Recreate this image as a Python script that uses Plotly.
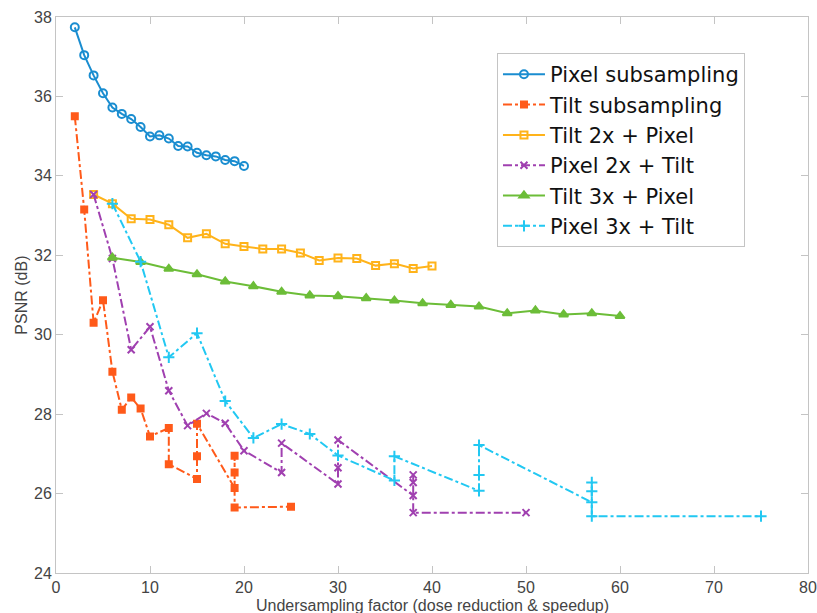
import plotly.graph_objects as go

# ---------------- data ----------------
pixel_x = list(range(2, 21))
pixel_y = [37.74, 37.04, 36.53, 36.08, 35.72, 35.56, 35.43, 35.23, 34.99, 35.02,
           34.94, 34.75, 34.74, 34.58, 34.52, 34.49, 34.40, 34.37, 34.25]

tilt_x = [2, 3, 4, 5, 6, 7, 8, 9, 10, 12, 12, 15, 15, 15, 19, 19, 19, 19, 25]
tilt_y = [35.50, 33.15, 30.30, 30.87, 29.07, 28.11, 28.42, 28.14, 27.44, 27.65,
          26.74, 26.37, 26.94, 27.76, 26.14, 26.53, 26.95, 25.65, 25.67]

t2p_x = list(range(4, 41, 2))
t2p_y = [33.53, 33.30, 32.92, 32.90, 32.77, 32.44, 32.54, 32.29, 32.22, 32.16,
         32.16, 32.06, 31.87, 31.93, 31.92, 31.74, 31.79, 31.67, 31.73]

p2t_x = [4, 6, 8, 10, 12, 14, 16, 18, 20, 24, 24, 30, 30, 30, 38, 38, 38, 38, 50]
p2t_y = [33.53, 31.92, 29.62, 30.20, 28.59, 27.71, 28.02, 27.77, 27.08, 26.53,
         27.27, 26.24, 26.65, 27.35, 25.95, 26.28, 26.47, 25.52, 25.52]

t3p_x = list(range(6, 61, 3))
t3p_y = [31.94, 31.83, 31.66, 31.52, 31.34, 31.22, 31.08, 30.99, 30.97, 30.92,
         30.86, 30.79, 30.75, 30.71, 30.54, 30.61, 30.51, 30.54, 30.47]

p3t_x = [6, 9, 12, 15, 18, 21, 24, 27, 30, 36, 36, 45, 45, 45, 57, 57, 57, 57, 75]
p3t_y = [33.30, 31.84, 29.43, 30.04, 28.33, 27.40, 27.75, 27.50, 26.96, 26.33,
         26.94, 26.07, 26.47, 27.22, 25.78, 26.06, 26.28, 25.43, 25.43]

x_ticks = [0, 10, 20, 30, 40, 50, 60, 70, 80]
y_ticks = [24, 26, 28, 30, 32, 34, 36, 38]

x_title = "Undersampling factor (dose reduction & speedup)"
y_title = "PSNR (dB)"

series = [
    ("Pixel subsampling", pixel_x, pixel_y, "#1a8dd0", "solid", "circle-open", 8),
    ("Tilt subsampling", tilt_x, tilt_y, "#ff5a1a", "dashdot", "square", 6),
    ("Tilt 2x + Pixel", t2p_x, t2p_y, "#ffb31a", "solid", "square-open", 7),
    ("Pixel 2x + Tilt", p2t_x, p2t_y, "#a040b0", "dashdot", "x-thin-open", 7),
    ("Tilt 3x + Pixel", t3p_x, t3p_y, "#6cbd38", "solid", "triangle-up", 8),
    ("Pixel 3x + Tilt", p3t_x, p3t_y, "#22c8f2", "dashdot", "cross-thin-open", 8),
]

fig = go.Figure()
for i, (name, xs, ys, col, dash, sym, size) in enumerate(series):
    fig.add_trace(go.Scatter(
        x=xs, y=ys, name=name, mode="lines+markers",
        line=dict(color=col, width=2, dash=dash),
        marker=dict(symbol=sym, size=size, color=col,
                    line=dict(color=col, width=2)),
    ))

FONT = "Liberation Sans, Arial, Helvetica, sans-serif"

axis_common = dict(
    showgrid=False, zeroline=False, showline=True, mirror="ticks",
    linecolor="#c4c4c4", linewidth=1, ticks="inside", ticklen=7,
    tickcolor="#c4c4c4", tickfont=dict(size=16, color="#444444", family=FONT),
    automargin=False, ticklabeloverflow="allow",
)

fig.update_layout(
    width=817, height=613,
    margin=dict(l=56, r=9, t=17, b=40),
    paper_bgcolor="white", plot_bgcolor="white",
    font=dict(family=FONT, color="#444444"),
    xaxis=dict(range=[0, 80], tickvals=x_ticks, ticktext=[str(v) for v in x_ticks],
               **axis_common),
    yaxis=dict(range=[24, 38], tickvals=y_ticks, ticktext=[str(v) for v in y_ticks],
               **axis_common),
    legend=dict(x=0.5864, y=0.935, xanchor="left", yanchor="top",
                bordercolor="#c4c4c4", borderwidth=1, bgcolor="white",
                font=dict(size=21, color="#111111", family="DejaVu Sans, Liberation Sans, sans-serif"),
                itemwidth=42, tracegroupgap=0),
    showlegend=True,
    annotations=[
        dict(text=x_title, xref="paper", yref="paper", x=0.5, y=-0.0585,
             xanchor="center", yanchor="middle", showarrow=False,
             font=dict(size=16, color="#444444", family=FONT)),
        dict(text=y_title, xref="paper", yref="paper", x=-0.047, y=0.5,
             xanchor="center", yanchor="middle", showarrow=False, textangle=-90,
             font=dict(size=16, color="#444444", family=FONT)),
    ],
)

fig.write_html("out.html", config={"displayModeBar": False},
               post_script="document.body.style.margin='0';document.body.style.overflow='hidden';")
